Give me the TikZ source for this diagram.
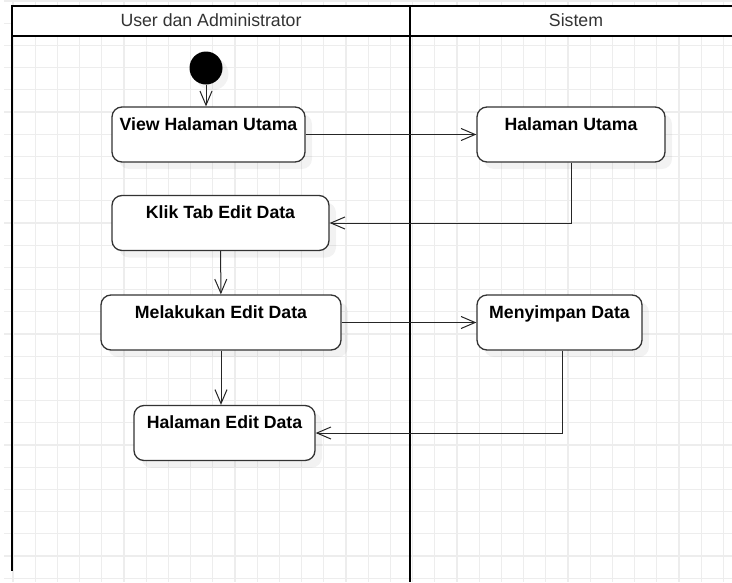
\documentclass[tikz,border=0pt]{standalone}
\usepackage{fontspec}
\setmainfont{Liberation Sans}
\usetikzlibrary{arrows.meta}
\usetikzlibrary{shadows}
\tikzset{>={Straight Barb[length=14pt, width=12pt]}}
\tikzset{
  act/.style={draw=black!80, line width=1.3pt, fill=white, rounded corners=10pt,
    inner sep=0pt, minimum height=55pt, text height=23.3pt, text depth=31.7pt,
    font=\bfseries\fontsize{17.7}{21}\selectfont,
    drop shadow={shadow xshift=7pt, shadow yshift=-7pt, opacity=0.1}},
  lane/.style={line width=2.8pt, black},
  flow/.style={->, line width=1pt, black!85},
  gridline/.style={line width=1.2pt, black!7},
  lanetitle/.style={font=\fontsize{17.7}{21}\selectfont, text=black!80},
}

\begin{document}
\begin{tikzpicture}[x=1pt, y=-1pt]
  \useasboundingbox (0,0) rectangle (732,582);
  % background grid
  \foreach \i in {0,...,32}
    \draw[gridline] ({12.9+22.2*\i},0) -- ({12.9+22.2*\i},582);
  \foreach \j in {0,...,26}
    \draw[gridline] (4,{1+22.2*\j}) -- (732,{1+22.2*\j});
  % swimlanes
  \fill[white] (12,6) rectangle (732,36);
  \draw[lane] (732,6) -- (12,6) -- (12,571);
  \draw[lane] (12,36) -- (732,36);
  \draw[lane] (410,6) -- (410,582);
  \node[lanetitle] (user) at (211,20.5) {User dan Administrator};
  \node[lanetitle] (sistem) at (576,20.5) {Sistem};
  % activities
  \node[circle, fill=black, minimum size=33pt, inner sep=0pt,
    drop shadow={shadow xshift=6pt, shadow yshift=-6pt, opacity=0.1}] (start) at (206,68) {};
  \node[act, minimum width=193pt] (view) at (208.5,134.5) {View Halaman Utama};
  \node[act, minimum width=188pt] (utama) at (571,134.5) {Halaman Utama};
  \node[act, minimum width=217pt] (klik) at (220.5,223) {Klik Tab Edit Data};
  \node[act, minimum width=240pt] (edit) at (221,322.5) {Melakukan Edit Data};
  \node[act, minimum width=165pt] (simpan) at (559.5,322.5) {Menyimpan Data};
  \node[act, minimum width=181pt] (hasil) at (224.5,433) {Halaman Edit Data};
  % flows
  \draw[flow] (start) -- (start |- view.north);
  \draw[flow] (view) -- (utama);
  \draw[flow] (utama) |- (klik);
  \draw[flow] (klik) -- (edit);
  \draw[flow] (edit) -- (simpan);
  \draw[flow] ([xshift=3pt]simpan.south) |- (hasil);
  \draw[flow] (edit) -- (edit |- hasil.north);
\end{tikzpicture}
\end{document}
